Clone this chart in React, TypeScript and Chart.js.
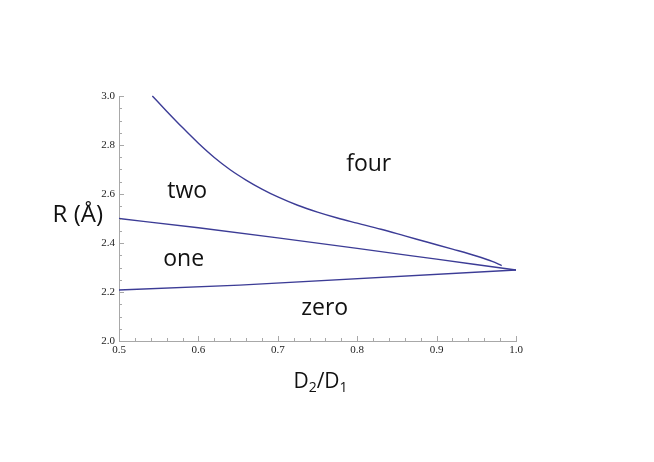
import React, { useEffect, useRef } from "react";
import { Chart, registerables } from "chart.js";

Chart.register(...registerables);

// ---- data ----
const xTicks = [0.5, 0.6, 0.7, 0.8, 0.9, 1.0];
const yTicks = [2.0, 2.2, 2.4, 2.6, 2.8, 3.0];

// boundary between "two" and "four"
const upperX = [0.542, 0.56, 0.58, 0.6, 0.62, 0.64, 0.66, 0.68, 0.7, 0.725, 0.75, 0.775, 0.8, 0.83, 0.86, 0.89, 0.92, 0.95, 0.97, 0.982];
const upperY = [3.0, 2.938, 2.871, 2.807, 2.749, 2.699, 2.657, 2.62, 2.588, 2.554, 2.526, 2.502, 2.481, 2.456, 2.429, 2.402, 2.375, 2.347, 2.325, 2.308];

// boundary between "one" and "two"
const middleX = [0.5, 0.6, 0.7, 0.8, 0.9, 1.0];
const middleY = [2.5, 2.462, 2.421, 2.378, 2.334, 2.29];

// boundary between "zero" and "one"
const lowerX = [0.5, 0.652, 1.0];
const lowerY = [2.208, 2.228, 2.29];

// region labels (in data coordinates)
const regionNames = ["four", "two", "one", "zero"];
const regionX = [0.8145, 0.5859, 0.5815, 0.759];
const regionY = [2.695, 2.582, 2.307, 2.106];

const LINE_COLOR = "#3c3c96";
const AXIS_COLOR = "#a8a8a8";
const TICK_FONT = "'Liberation Serif', 'Times New Roman', serif";
const LABEL_FONT = "'Open Sans', 'Noto Sans', sans-serif";

const toPts = (xs: number[], ys: number[]) => xs.map((x, i) => ({ x, y: ys[i] }));

const decorPlugin = {
  id: "decor",
  afterDraw(chart: any) {
    const { ctx } = chart;
    const xs = chart.scales.x;
    const ys = chart.scales.y;
    const left = xs.left;
    const bottom = ys.bottom;
    ctx.save();
    ctx.strokeStyle = AXIS_COLOR;
    ctx.lineWidth = 1;
    // x ticks (inward)
    const xMin = xTicks[0];
    const xMax = xTicks[xTicks.length - 1];
    const nX = Math.round((xMax - xMin) / 0.02);
    for (let i = 0; i <= nX; i++) {
      const v = xMin + i * 0.02;
      const px = Math.round(xs.getPixelForValue(v)) + 0.5;
      const len = i % 5 === 0 ? 5 : 3;
      ctx.beginPath();
      ctx.moveTo(px, bottom);
      ctx.lineTo(px, bottom - len);
      ctx.stroke();
    }
    const yMin = yTicks[0];
    const yMax = yTicks[yTicks.length - 1];
    const nY = Math.round((yMax - yMin) / 0.05);
    for (let i = 0; i <= nY; i++) {
      const v = yMin + i * 0.05;
      const py = Math.round(ys.getPixelForValue(v)) + 0.5;
      const len = i % 4 === 0 ? 5 : 3;
      ctx.beginPath();
      ctx.moveTo(left, py);
      ctx.lineTo(left + len, py);
      ctx.stroke();
    }

    // region labels
    ctx.fillStyle = "#111";
    ctx.font = `23px ${LABEL_FONT}`;
    ctx.textAlign = "center";
    ctx.textBaseline = "alphabetic";
    regionNames.forEach((name, i) => {
      ctx.fillText(name, xs.getPixelForValue(regionX[i]), ys.getPixelForValue(regionY[i]));
    });

    // y axis title
    ctx.textAlign = "right";
    ctx.font = `24px ${LABEL_FONT}`;
    ctx.fillText("R (Å)", left - 16, ys.getPixelForValue(2.485));

    // x axis title: D2/D1 with subscripts
    ctx.textAlign = "left";
    const cx = (xs.left + xs.right) / 2 + 3;
    const base = 388;
    const big = `21px ${LABEL_FONT}`;
    const small = `14px ${LABEL_FONT}`;
    const parts = [
      { t: "D", f: big, dy: 0 },
      { t: "2", f: small, dy: 4 },
      { t: "/", f: big, dy: 0 },
      { t: "D", f: big, dy: 0 },
      { t: "1", f: small, dy: 4 },
    ];
    let total = 0;
    parts.forEach((p) => {
      ctx.font = p.f;
      total += ctx.measureText(p.t).width;
    });
    let cur = cx - total / 2;
    parts.forEach((p) => {
      ctx.font = p.f;
      ctx.fillText(p.t, cur, base + p.dy);
      cur += ctx.measureText(p.t).width;
    });
    ctx.restore();
  },
};

export default function App() {
  const ref = useRef<HTMLCanvasElement | null>(null);
  useEffect(() => {
    if (!ref.current) return;
    const chart = new Chart(ref.current, {
      type: "scatter",
      data: {
        datasets: [
          { data: toPts(upperX, upperY), cubicInterpolationMode: "monotone" },
          { data: toPts(middleX, middleY), cubicInterpolationMode: "monotone" },
          { data: toPts(lowerX, lowerY), tension: 0 },
        ].map((d: any) => ({
          ...d,
          showLine: true,
          borderColor: LINE_COLOR,
          backgroundColor: LINE_COLOR,
          borderWidth: 1.4,
          pointRadius: 0,
          pointHoverRadius: 0,
          fill: false,
          clip: false,
        })),
      },
      options: {
        animation: false,
        responsive: false,
        events: [],
        layout: { padding: { left: 0, right: 138, top: 96, bottom: 0 } },
        plugins: {
          legend: { display: false },
          tooltip: { enabled: false },
          title: { display: false },
        },
        scales: {
          x: {
            type: "linear",
            min: xTicks[0],
            max: xTicks[xTicks.length - 1],
            afterBuildTicks: (s: any) => {
              s.ticks = xTicks.map((v) => ({ value: v }));
            },
            afterFit: (s: any) => {
              s.height = 121;
            },
            grid: { display: false, drawTicks: false, tickLength: 0 },
            border: { display: true, color: AXIS_COLOR, width: 1 },
            ticks: {
              padding: 3,
              color: "#222",
              font: { family: TICK_FONT, size: 11 },
              maxRotation: 0,
              autoSkip: false,
              callback: (v: any) => Number(v).toFixed(1),
            },
          },
          y: {
            type: "linear",
            min: yTicks[0],
            max: yTicks[yTicks.length - 1],
            afterBuildTicks: (s: any) => {
              s.ticks = yTicks.map((v) => ({ value: v }));
            },
            afterFit: (s: any) => {
              s.width = 119;
            },
            grid: { display: false, drawTicks: false, tickLength: 0 },
            border: { display: true, color: AXIS_COLOR, width: 1 },
            ticks: {
              padding: 4,
              color: "#222",
              font: { family: TICK_FONT, size: 11 },
              autoSkip: false,
              callback: (v: any) => Number(v).toFixed(1),
            },
          },
        },
      },
      plugins: [decorPlugin],
    });
    return () => chart.destroy();
  }, []);
  return (
    <div style={{ position: "fixed", left: 0, top: 0, width: 654, height: 462, background: "#fff" }}>
      <canvas ref={ref} width={654} height={462} style={{ display: "block" }} />
    </div>
  );
}
